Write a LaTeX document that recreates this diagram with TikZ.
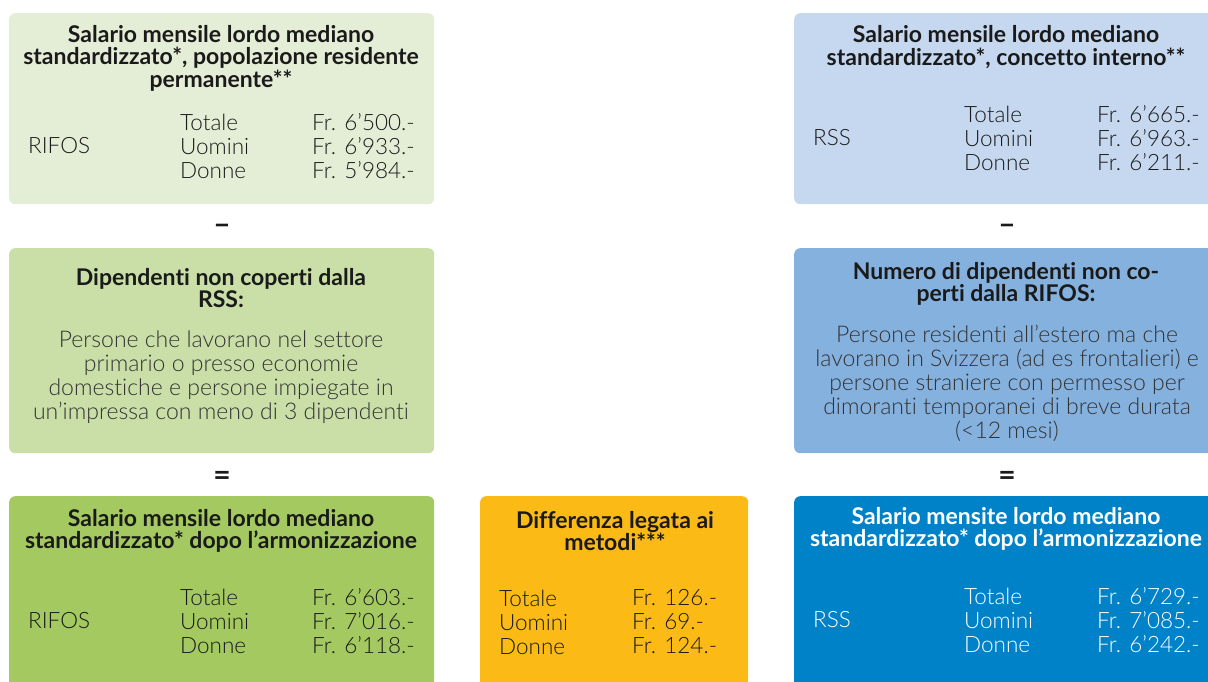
\documentclass[tikz,border=0pt]{standalone}
\usepackage{fontspec}
\setmainfont{Lato}[UprightFont=* Light, BoldFont=* Bold, Ligatures=NoCommon]
\usetikzlibrary{positioning}

\definecolor{verde1}{HTML}{E4EED6}
\definecolor{verde2}{HTML}{C9DFA7}
\definecolor{verde3}{HTML}{A3C960}
\definecolor{blu1}{HTML}{C6D8EF}
\definecolor{blu2}{HTML}{85B1DF}
\definecolor{blu3}{HTML}{0082C8}
\definecolor{arancio}{HTML}{FBBA16}
\definecolor{testo}{HTML}{1A1A1A}
\definecolor{grigio}{HTML}{333333}

\tikzset{
  box/.style={rounded corners=6pt, inner sep=0pt, anchor=north west},
  titolo/.style={font=\bfseries\fontsize{23}{22.5}\selectfont, align=center, text=testo},
  corpo/.style={font=\fontsize{23}{24}\selectfont, align=center, text=grigio},
  colonna/.style={font=\fontsize{22.5}{24}\selectfont, align=left, anchor=west, text=testo, inner sep=0pt},
  segno/.style={font=\bfseries\fontsize{30}{30}\selectfont, text=testo}
}

\begin{document}
\begin{tikzpicture}[x=1pt, y=-1pt]
\useasboundingbox (0,0) rectangle (1208,682);
\clip (0,0) rectangle (1208,682);

% prima riga
\node[box, fill=verde1, minimum width=425pt, minimum height=191pt] (salRIFOS) at (9,13) {};
\node[titolo] (titRIFOS) at (221,58) {Salario mensile lordo mediano\\standardizzato*, popolazione residente\\permanente**};
\node[colonna] (srcRIFOS) at (28,146) {RIFOS};
\node[colonna] (catRIFOS) at (180,146) {Totale\\Uomini\\Donne};
\node[colonna] (valRIFOS) at (312,146) {Fr. 6'500.-\\Fr. 6'933.-\\Fr. 5'984.-};

\node[box, fill=blu1, minimum width=440pt, minimum height=191pt] (salRSS) at (794,13) {};
\node[titolo] (titRSS) at (1006,47) {Salario mensile lordo mediano\\standardizzato*, concetto interno**};
\node[colonna] (srcRSS) at (813,138) {RSS};
\node[colonna] (catRSS) at (964,138) {Totale\\Uomini\\Donne};
\node[colonna] (valRSS) at (1097,138) {Fr. 6'665.-\\Fr. 6'963.-\\Fr. 6’211.-};

\node[segno] (menoL) at (222,229) {–};
\node[segno] (menoR) at (1007,229) {–};

% seconda riga
\node[box, fill=verde2, minimum width=425pt, minimum height=205pt] (noRSS) at (9,248) {};
\node[titolo] (titNoRSS) at (221,288) {Dipendenti non coperti dalla\\RSS:};
\node[corpo] (txtNoRSS) at (221,377) {Persone che lavorano nel settore\\primario o presso economie\\domestiche e persone impiegate in\\un’impressa con meno di 3 dipendenti};

\node[box, fill=blu2, minimum width=440pt, minimum height=205pt] (noRIFOS) at (794,248) {};
\node[titolo] (titNoRIFOS) at (1006,284) {Numero di dipendenti non co-\\perti dalla RIFOS:};
\node[corpo] (txtNoRIFOS) at (1007,383) {Persone residenti all’estero ma che\\lavorano in Svizzera (ad es frontalieri) e\\persone straniere con permesso per\\dimoranti temporanei di breve durata\\(<12 mesi)};

\node[segno] (ugualeL) at (222,478) {=};
\node[segno] (ugualeR) at (1007,478) {=};

% terza riga
\node[box, fill=verde3, minimum width=425pt, minimum height=200pt] (armRIFOS) at (9,496) {};
\node[titolo] (titArmRIFOS) at (221,531) {Salario mensile lordo mediano\\standardizzato* dopo l’armonizzazione};
\node[colonna] (srcArmRIFOS) at (28,621) {RIFOS};
\node[colonna] (catArmRIFOS) at (180,621) {Totale\\Uomini\\Donne};
\node[colonna] (valArmRIFOS) at (312,621) {Fr. 6'603.-\\Fr. 7’016.-\\Fr. 6’118.-};

\node[box, fill=arancio, minimum width=268pt, minimum height=200pt] (diff) at (480,496) {};
\node[titolo] (titDiff) at (615,531) {Differenza legata ai\\metodi***};
\node[colonna] (catDiff) at (499,622) {Totale\\Uomini\\Donne};
\node[colonna] (valDiff) at (632,622) {Fr. 126.-\\Fr. 69.-\\Fr. 124.-};

\node[box, fill=blu3, minimum width=440pt, minimum height=200pt] (armRSS) at (794,496) {};
\node[titolo, text=white] (titArmRSS) at (1006,529) {Salario mensite lordo mediano\\standardizzato* dopo l’armonizzazione};
\node[colonna, text=white] (srcArmRSS) at (813,620) {RSS};
\node[colonna, text=white] (catArmRSS) at (964,620) {Totale\\Uomini\\Donne};
\node[colonna, text=white] (valArmRSS) at (1097,620) {Fr. 6'729.-\\Fr. 7’085.-\\Fr. 6’242.-};
\end{tikzpicture}
\end{document}
